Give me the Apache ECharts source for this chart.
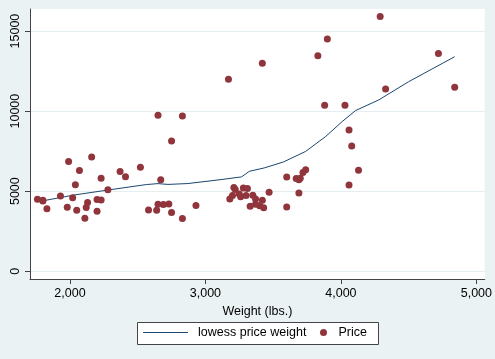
<!DOCTYPE html>
<html>
<head>
<meta charset="utf-8">
<script src="https://cdn.jsdelivr.net/npm/echarts@6/dist/echarts.min.js"></script>
<style>
html,body{margin:0;padding:0;background:#eaf2f3;}
#chart{width:495px;height:359px;}
</style>
</head>
<body>
<div id="chart"></div>
<script>
// Auto data: weight (lbs.) and price
const weights = [2930,3350,2640,3250,4080,3670,2230,3280,3880,3400,4330,3900,4290,2110,3690,3180,3220,2750,3430,2120,3600,3600,3740,1800,2650,4840,4720,3830,2580,4060,3720,3370,4130,2830,4060,3310,3300,3690,3370,2730,4030,3260,1800,2200,2520,3330,3700,3470,3210,3200,3420,2690,2830,2070,2650,2370,2020,2280,2750,2130,2230,1760,1980,3420,1830,2050,2410,2200,2670,2160,2040,1930,1990,3170];
const prices = [4099,4749,3799,4816,7827,5788,4453,5189,10372,4082,11385,14500,15906,3299,5705,4504,5104,3667,3955,3984,4010,5886,6342,4389,4187,11497,13594,13466,3829,5379,6165,4516,6303,3291,8814,5172,4733,4890,4181,4195,10371,4647,4425,4482,6486,4060,5798,4934,5222,4723,4424,4172,9690,6295,9735,6229,4589,5079,8129,4296,5799,4499,3995,12990,3895,3798,5899,3748,5719,7140,5397,4697,6850,11995];

// Lowess curve
const lowessWeight = [1760,1816,2022,2270,2564,2650,2723,2870,3115,3267,3324,3434,3576,3740,3888,4010,4108,4279,4500,4840];
const lowessPrice  = [4360,4420,4746,5057,5411,5470,5420,5474,5722,5890,6239,6450,6823,7483,8416,9349,10033,10698,11837,13400];

const xTicks = [2000,3000,4000,5000];
const yTicks = [0,5000,10000,15000];

const scatterData = weights.map((w,i)=>[w, prices[i]]);
const lowessData = lowessWeight.map((w,i)=>[w, lowessPrice[i]]);

const FONT = 'Liberation Sans, Arial, sans-serif';
const chart = echarts.init(document.getElementById('chart'), null, {renderer:'canvas'});
chart.setOption({
  backgroundColor: '#eaf2f3',
  animation: false,
  grid: {left:30, top:9, width:456, height:270, show:true, backgroundColor:'#ffffff', borderWidth:0},
  graphic: [{
    type:'rect', z:1, left:137, top:322,
    shape:{width:241, height:22},
    style:{fill:'#ffffff', stroke:'#444', lineWidth:1}
  }],
  legend: [
    {left:143, top:326, itemWidth:45, itemHeight:1, padding:0,
     data:[{name:'lowess price weight', icon:'rect'}],
     itemStyle:{color:'#1a476f'},
     textStyle:{fontFamily:FONT, fontSize:12.5, color:'#000', padding:[0,0,0,5]}},
    {left:320, top:326, itemWidth:20, itemHeight:7, padding:0,
     data:[{name:'Price'}],
     textStyle:{fontFamily:FONT, fontSize:12.5, color:'#000'}}
  ],
  xAxis: {
    type:'value', min:1705, max:5062,
    name:'Weight (lbs.)', nameLocation:'middle', nameGap:19,
    nameTextStyle:{fontFamily:FONT, fontSize:12.5, color:'#000'},
    axisLine:{show:true, onZero:false, lineStyle:{color:'#444', width:1}},
    axisTick:{show:true, customValues:xTicks, length:5, lineStyle:{color:'#444'}},
    axisLabel:{customValues:xTicks, margin:8, fontFamily:FONT, fontSize:12.5, color:'#000',
      formatter:v=>Number(v).toLocaleString('en-US')},
    splitLine:{show:false}
  },
  yAxis: {
    type:'value', min:-490, max:16380,
    axisLine:{show:true, onZero:false, lineStyle:{color:'#444', width:1}},
    axisTick:{show:true, customValues:yTicks, length:5, lineStyle:{color:'#444'}},
    axisLabel:{customValues:yTicks, rotate:90, margin:8, fontFamily:FONT, fontSize:12.5, color:'#000',
      formatter:v=>String(v)},
    splitLine:{show:true, lineStyle:{color:'#e4edef', width:1}}
  },
  series: [
    {name:'lowess price weight', type:'line', data:lowessData, showSymbol:false, symbol:'none',
     lineStyle:{color:'#1a476f', width:1}, itemStyle:{color:'#1a476f'}, z:2},
    {name:'Price', type:'scatter', data:scatterData, symbol:'circle', symbolSize:7,
     itemStyle:{color:'#90353b', opacity:1}, z:3}
  ]
});
</script>
</body>
</html>
